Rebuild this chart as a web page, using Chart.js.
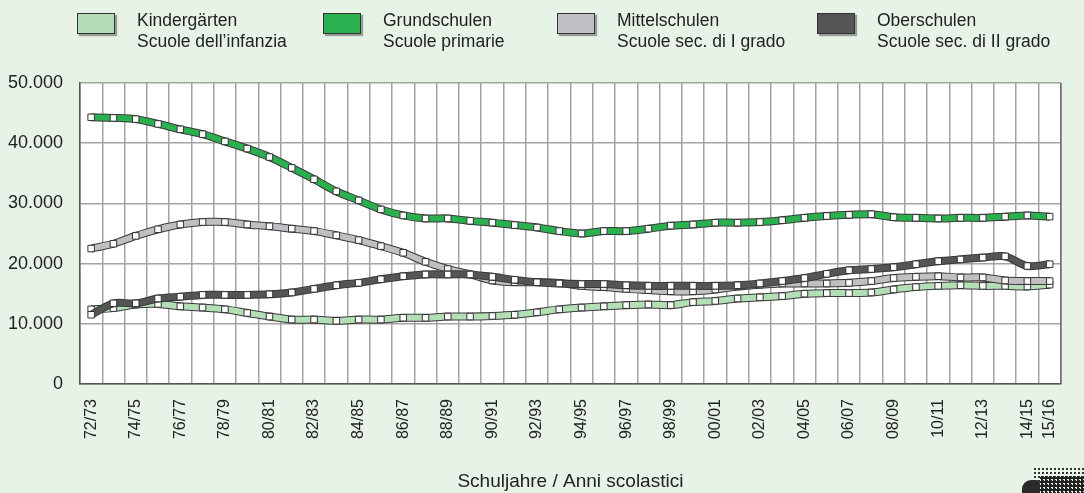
<!DOCTYPE html>
<html>
<head>
<meta charset="utf-8">
<script src="https://cdn.jsdelivr.net/npm/chart.js@4"></script>
<style>
  html, body { margin: 0; padding: 0; background: #e7f3e7; }
  #wrap { position: relative; width: 1084px; height: 493px; overflow: hidden; }
  #chart { position: absolute; left: 0; top: 0; }
  .item { position: absolute; top: 0; }
  .box { position: absolute; top: 13px; width: 36px; height: 19px; border: 1px solid #333;
         box-shadow: 2px 2px 1px rgba(0,0,0,0.35); }
  .txt { position: absolute; top: 10px; white-space: nowrap; font-family: 'Liberation Sans', Arial, sans-serif;
         font-size: 17.5px; line-height: 21px; color: #222; }
  /* Logo-Rest unten rechts (Rasterpunkte) */
  #logo { position: absolute; left: 1033px; top: 467px; width: 60px; height: 30px;
          background-image: radial-gradient(circle, #333 1.1px, transparent 1.4px);
          background-size: 4px 4px; }
  #logo2 { position: absolute; left: 1040px; top: 476px; width: 50px; height: 20px;
           background-image: radial-gradient(circle, #222 1.6px, transparent 1.9px);
           background-size: 4px 4px; }
  #blob { position: absolute; left: 1022px; top: 480px; width: 18px; height: 20px;
          background: #2a2a2a; border-radius: 9px 4px 0 0; }
</style>
</head>
<body>
<div id="wrap">
  <canvas id="chart" width="1084" height="493"></canvas>
  <div id="legend"></div>
  <div id="logo"></div><div id="logo2"></div><div id="blob"></div>
</div>
<script>
// Schuljahre / Anni scolastici
const years = ['72/73','73/74','74/75','75/76','76/77','77/78','78/79','79/80','80/81','81/82',
  '82/83','83/84','84/85','85/86','86/87','87/88','88/89','89/90','90/91','91/92',
  '92/93','93/94','94/95','95/96','96/97','97/98','98/99','99/00','00/01','01/02',
  '02/03','03/04','04/05','05/06','06/07','07/08','08/09','09/10','10/11','11/12',
  '12/13','13/14','14/15','15/16'];

const kindergarten = [12400, 12600, 13200, 13300, 12900, 12700, 12400, 11800, 11200, 10700,
  10700, 10500, 10700, 10700, 11000, 11000, 11200, 11200, 11300, 11500,
  11900, 12400, 12700, 12900, 13100, 13200, 13100, 13600, 13800, 14200,
  14400, 14600, 15000, 15100, 15100, 15200, 15700, 16100, 16300, 16400,
  16300, 16300, 16200, 16500];

const grundschulen = [44300, 44200, 44000, 43200, 42300, 41500, 40300, 39100, 37700, 35900,
  34000, 32000, 30500, 29000, 28000, 27500, 27500, 27100, 26800, 26400,
  26000, 25400, 25000, 25400, 25400, 25800, 26300, 26500, 26800, 26800,
  26900, 27200, 27600, 27900, 28100, 28200, 27700, 27600, 27500, 27600,
  27600, 27800, 28000, 27800];

const mittelschulen = [22500, 23300, 24600, 25700, 26500, 26900, 26900, 26500, 26200, 25800,
  25400, 24700, 23900, 22900, 21800, 20300, 19100, 18200, 17200, 16900,
  16900, 16800, 16300, 16100, 15800, 15600, 15400, 15400, 15700, 16200,
  16500, 16700, 16700, 16700, 16800, 17100, 17600, 17800, 17900, 17700,
  17700, 17200, 17100, 17100];

const oberschulen = [11500, 13400, 13400, 14200, 14500, 14800, 14800, 14800, 14900, 15200,
  15800, 16400, 16800, 17400, 17900, 18200, 18200, 18200, 17800, 17300,
  16900, 16700, 16600, 16600, 16400, 16300, 16300, 16300, 16300, 16400,
  16700, 17100, 17600, 18300, 18900, 19100, 19400, 19900, 20400, 20700,
  21000, 21200, 19600, 19900];

const yTicks = [0, 10000, 20000, 30000, 40000, 50000];

// Reihenfolge = Legende; layer: höher = weiter oben gezeichnet
const series = [
  { de: 'Kindergärten', it: 'Scuole dell’infanzia', data: kindergarten, color: '#b4dfb6', layer: 0, legendX: 77 },
  { de: 'Grundschulen', it: 'Scuole primarie', data: grundschulen, color: '#2bb04f', layer: 3, legendX: 323 },
  { de: 'Mittelschulen', it: 'Scuole sec. di I grado', data: mittelschulen, color: '#c0c0c4', layer: 1, legendX: 557 },
  { de: 'Oberschulen', it: 'Scuole sec. di II grado', data: oberschulen, color: '#555556', layer: 2, legendX: 817 }
];

const FONT = "'Liberation Sans', Arial, sans-serif";
const NARROW = "'Liberation Sans Narrow', 'Liberation Sans', Arial, sans-serif";

// HTML-Legende (zweizeilige Beschriftung)
const legendEl = document.getElementById('legend');
series.forEach(s => {
  const item = document.createElement('div');
  item.className = 'item';
  item.style.left = s.legendX + 'px';
  item.innerHTML = '<span class="box" style="left:0;background:' + s.color + '"></span>' +
    '<div class="txt" style="left:60px">' + s.de + '<br>' + s.it + '</div>';
  legendEl.appendChild(item);
});

function formatThousands(v) {
  return String(v).replace(/\B(?=(\d{3})+(?!\d))/g, '.');
}

// je Serie: dunkle Kontur darunter, farbige Linie mit weißen Quadraten darüber
const datasets = [];
series.forEach(s => {
  datasets.push({
    label: s.de + ' outline',
    data: s.data,
    borderColor: '#3a3a3a',
    borderWidth: 8,
    pointRadius: 0,
    tension: 0.3,
    fill: false,
    order: 20 - s.layer * 2
  });
  datasets.push({
    label: s.de,
    data: s.data,
    borderColor: s.color,
    borderWidth: 6,
    pointStyle: 'rect',
    pointRadius: 4.6,
    pointBackgroundColor: '#ffffff',
    pointBorderColor: '#333333',
    pointBorderWidth: 1,
    tension: 0.3,
    fill: false,
    order: 19 - s.layer * 2
  });
});

const plotBackground = {
  id: 'plotBackground',
  beforeDraw(chart) {
    const { ctx, chartArea: a } = chart;
    ctx.save();
    ctx.fillStyle = '#ffffff';
    ctx.fillRect(a.left, a.top, a.right - a.left, a.bottom - a.top);
    ctx.restore();
  },
  afterDraw(chart) {
    const { ctx, chartArea: a } = chart;
    ctx.save();
    ctx.strokeStyle = '#6a6a6a';
    ctx.lineWidth = 1.5;
    ctx.beginPath();
    ctx.moveTo(a.right, a.top);
    ctx.lineTo(a.right, a.bottom);
    ctx.stroke();
    ctx.restore();
  }
};

new Chart(document.getElementById('chart').getContext('2d'), {
  type: 'line',
  data: { labels: years, datasets: datasets },
  plugins: [plotBackground],
  options: {
    responsive: false,
    animation: false,
    devicePixelRatio: 1,
    layout: { padding: { top: 83, right: 11, left: 0, bottom: 0 } },
    plugins: {
      legend: { display: false },
      tooltip: { enabled: false }
    },
    scales: {
      x: {
        offset: true,
        grid: { offset: true, color: '#a3a3a3', lineWidth: 1.5, drawTicks: false },
        border: { color: '#555555', width: 1.5 },
        ticks: {
          autoSkip: false,
          minRotation: 90,
          maxRotation: 90,
          padding: 15,
          color: '#222222',
          font: { family: NARROW, size: 16 },
          callback: function(value, index) {
            if (index % 2 === 0 || index === years.length - 1) return this.getLabelForValue(value);
            return '';
          }
        },
        title: {
          display: true,
          text: 'Schuljahre / Anni scolastici',
          color: '#222222',
          font: { family: FONT, size: 19 },
          padding: { top: 0, bottom: 0 }
        },
        afterFit(scale) { scale.height = 109; }
      },
      y: {
        min: 0,
        max: 50000,
        afterBuildTicks(scale) { scale.ticks = yTicks.map(v => ({ value: v })); },
        grid: { color: '#a3a3a3', lineWidth: 1.5, drawTicks: false },
        border: { color: '#555555', width: 1.5 },
        ticks: {
          padding: 17,
          color: '#222222',
          font: { family: FONT, size: 18 },
          callback: v => formatThousands(v)
        },
        afterFit(scale) { scale.width = 80; }
      }
    }
  }
});
</script>
</body>
</html>
